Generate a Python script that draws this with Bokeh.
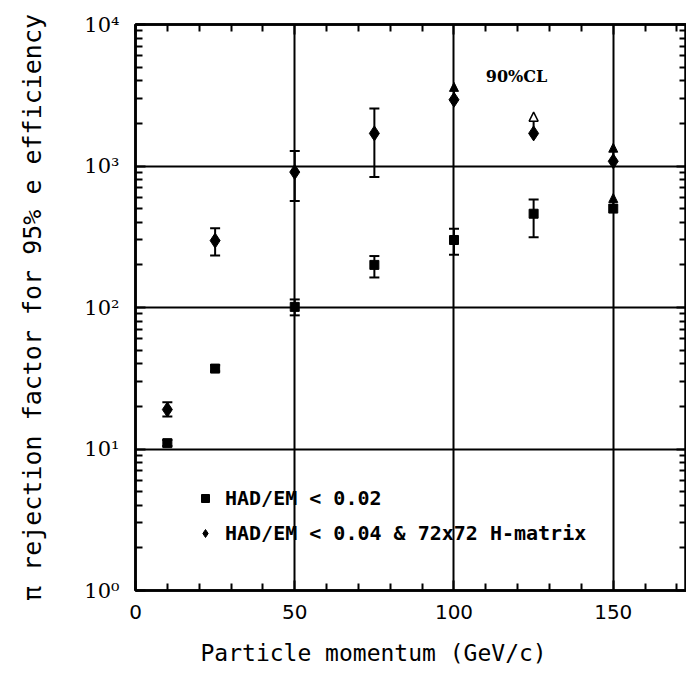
from bokeh.plotting import figure
from bokeh.models import (ColumnDataSource, Whisker, TeeHead, Arrow, NormalHead, Title,
                          FixedTicker, LinearAxis, LogAxis, CustomJSTickFormatter, Label,
                          Legend, LegendItem, Range1d)
from bokeh.embed import file_html
from bokeh.resources import INLINE

# ---- data ----
mom_sq = [10, 25, 50, 75, 100, 125, 150]
rej_sq = [11, 37, 101, 200, 300, 460, 500]
rej_sq_lo = [10.5, 35.5, 88, 163, 236, 314, None]
rej_sq_hi = [11.6, 39, 114, 231, 360, 580, None]
rej_sq_limit = [None, None, None, None, None, None, 640]

mom_dm = [10, 25, 50, 75, 100, 125, 150]
rej_dm = [19, 297, 906, 1700, 2940, 1700, 1080]
rej_dm_lo = [17, 233, 565, 836, None, None, None]
rej_dm_hi = [21.4, 363, 1277, 2547, None, None, None]
rej_dm_limit = [None, None, None, None, 3900, 2400, 1450]
dm_limit_open = [False, False, False, False, False, True, False]

x_major = [0, 50, 100, 150]
x_minor = [10, 20, 30, 40, 60, 70, 80, 90, 110, 120, 130, 140, 160, 170]
y_major = [1, 10, 100, 1000, 10000]
y_minor = [m * d for d in [1, 10, 100, 1000] for m in range(2, 10)]

FONT = "DejaVu Sans"
SERIF = "DejaVu Serif"
MONO = "DejaVu Sans Mono"

p = figure(width=686, height=689, y_axis_type="log", output_backend="svg",
           toolbar_location=None, x_range=Range1d(0, 173), y_range=Range1d(1, 10000),
           min_border_left=135, min_border_right=0, min_border_top=24, min_border_bottom=99)
p.background_fill_color = "white"
p.border_fill_color = "white"
p.outline_line_color = "black"
p.outline_line_width = 2.5

# grid only at major values
p.xgrid.ticker = FixedTicker(ticks=x_major[1:])
p.ygrid.ticker = FixedTicker(ticks=y_major[1:-1])
for g in (p.xgrid[0], p.ygrid[0]):
    g.grid_line_color = "black"
    g.grid_line_width = 2

sup = "const s=['\u2070','\u00b9','\u00b2','\u00b3','\u2074']; return '10'+s[Math.round(Math.log10(tick))];"

def style_axis(ax, labels=True):
    ax.axis_line_color = "black"
    ax.axis_line_width = 2.5
    ax.major_tick_in = 10
    ax.major_tick_out = 0
    ax.minor_tick_in = 7
    ax.minor_tick_out = 0
    ax.major_tick_line_width = 2
    ax.minor_tick_line_width = 2
    ax.major_tick_line_color = "black"
    ax.minor_tick_line_color = "black"
    ax.major_label_text_font = FONT
    ax.major_label_text_font_size = "20px"
    ax.major_label_text_color = "black"
    if labels:
        ax.axis_label_text_font = MONO
        ax.axis_label_text_font_style = "normal"
        ax.axis_label_text_color = "black"
    else:
        ax.formatter = CustomJSTickFormatter(code="return '';")
        ax.major_label_standoff = 0

xa = p.xaxis[0]
xa.ticker = FixedTicker(ticks=x_major, minor_ticks=x_minor)
style_axis(xa)
xa.major_label_standoff = 14

ya = p.yaxis[0]
ya.ticker = FixedTicker(ticks=y_major, minor_ticks=y_minor)
ya.formatter = CustomJSTickFormatter(code=sup)
style_axis(ya)
ya.major_label_text_font = SERIF
ya.major_label_text_font_size = "21px"
ya.axis_label = "\u03c0 rejection factor for 95% e efficiency"
ya.axis_label_text_font_size = "25px"
ya.major_label_standoff = 16
ya.axis_label_standoff = 34

top = LinearAxis(ticker=FixedTicker(ticks=x_major, minor_ticks=x_minor))
style_axis(top, labels=False)
p.add_layout(top, "above")
right = LogAxis(ticker=FixedTicker(ticks=y_major, minor_ticks=y_minor))
style_axis(right, labels=False)
p.add_layout(right, "right")

# x axis title, placed a little left of the frame centre as in the original
p.add_layout(Title(text="Particle  momentum (GeV/c)", align="left", offset=65, standoff=33,
                   text_font=MONO, text_font_size="23px", text_font_style="normal",
                   text_color="black"), "below")

# ---- error bars ----
def bars(xs, lo, hi):
    idx = [i for i in range(len(xs)) if lo[i] is not None]
    return ColumnDataSource(dict(x=[xs[i] for i in idx], lo=[lo[i] for i in idx], hi=[hi[i] for i in idx]))

for src in (bars(mom_sq, rej_sq_lo, rej_sq_hi), bars(mom_dm, rej_dm_lo, rej_dm_hi)):
    p.add_layout(Whisker(source=src, base="x", lower="lo", upper="hi", line_width=2, line_color="black",
                         lower_head=TeeHead(size=10, line_width=2, line_color="black"),
                         upper_head=TeeHead(size=10, line_width=2, line_color="black")))

# ---- lower limits (arrows) ----
def arrows(xs, ys, lim, mask):
    idx = [i for i in range(len(xs)) if lim[i] is not None and mask(i)]
    return ColumnDataSource(dict(x=[xs[i] for i in idx], y0=[ys[i] for i in idx], y1=[lim[i] for i in idx]))

filled = [arrows(mom_sq, rej_sq, rej_sq_limit, lambda i: True),
          arrows(mom_dm, rej_dm, rej_dm_limit, lambda i: not dm_limit_open[i])]
for src in filled:
    p.add_layout(Arrow(source=src, x_start="x", y_start="y0", x_end="x", y_end="y1", line_width=2,
                       end=NormalHead(size=9, fill_color="black", line_color="black")))
p.add_layout(Arrow(source=arrows(mom_dm, rej_dm, rej_dm_limit, lambda i: dm_limit_open[i]),
                   x_start="x", y_start="y0", x_end="x", y_end="y1", line_width=2,
                   end=NormalHead(size=9, fill_color="white", line_color="black", line_width=1.5)))

# ---- markers ----
r_sq = p.scatter(mom_sq, rej_sq, marker="square", size=9, color="black")
r_dm = p.scatter(mom_dm, rej_dm, marker="diamond", size=15, color="black")

legend = Legend(items=[LegendItem(label="HAD/EM < 0.02", renderers=[r_sq]),
                       LegendItem(label="HAD/EM < 0.04 & 72x72 H-matrix", renderers=[r_dm])],
                location=(60, 45), background_fill_alpha=0, border_line_alpha=0,
                label_text_font=MONO, label_text_font_size="20px", label_text_font_style="bold",
                label_text_color="black",
                glyph_width=20, label_standoff=10, spacing=11, padding=0, margin=0)
p.add_layout(legend)

p.add_layout(Label(x=110, y=4300, text="90%CL", text_font=SERIF, text_font_size="16px",
                   text_font_style="bold", text_color="black", text_baseline="middle"))

open("out.html", "w").write(file_html(p, INLINE))
